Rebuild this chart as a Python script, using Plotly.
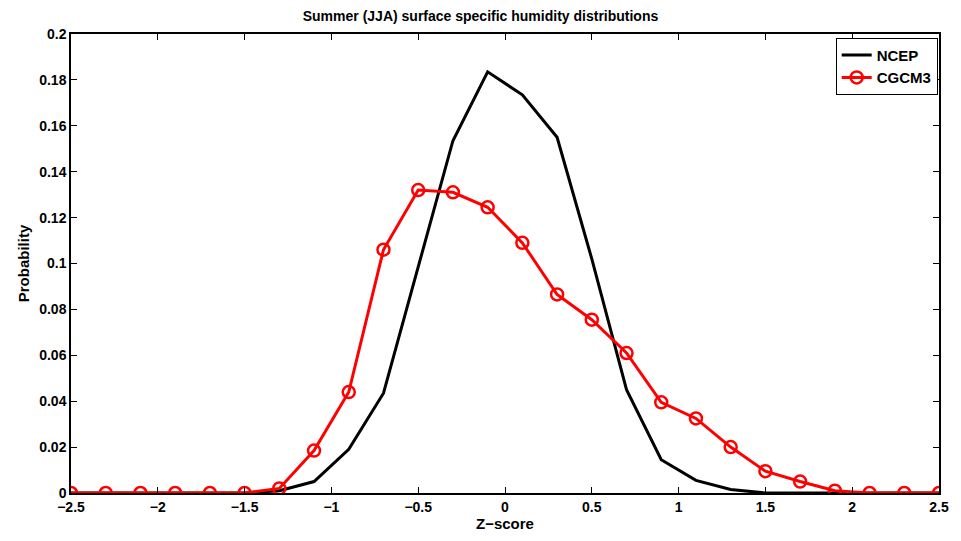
import plotly.graph_objects as go

z = [-2.5, -2.3, -2.1, -1.9, -1.7, -1.5, -1.3, -1.1, -0.9, -0.7, -0.5, -0.3, -0.1,
     0.1, 0.3, 0.5, 0.7, 0.9, 1.1, 1.3, 1.5, 1.7, 1.9, 2.1, 2.3, 2.5]
ncep = [0, 0, 0, 0, 0, 0, 0.001, 0.005, 0.019, 0.0435, 0.0985, 0.1535, 0.1835,
        0.1735, 0.155, 0.102, 0.045, 0.0145, 0.0055, 0.0015, 0, 0, 0, 0, 0, 0]
cgcm3 = [0, 0, 0, 0, 0, 0, 0.002, 0.0185, 0.044, 0.106, 0.132, 0.131, 0.1245,
         0.109, 0.0865, 0.0755, 0.061, 0.0395, 0.0325, 0.020, 0.0095, 0.005, 0.001, 0, 0, 0]
xticks = [-2.5, -2, -1.5, -1, -0.5, 0, 0.5, 1, 1.5, 2, 2.5]
xticklabels = ["−2.5", "−2", "−1.5", "−1", "−0.5", "0", "0.5", "1", "1.5", "2", "2.5"]
yticks = [0, 0.02, 0.04, 0.06, 0.08, 0.1, 0.12, 0.14, 0.16, 0.18, 0.2]
yticklabels = ["0", "0.02", "0.04", "0.06", "0.08", "0.1", "0.12", "0.14", "0.16", "0.18", "0.2"]

FAM = "Liberation Sans, Arial, sans-serif"
font = dict(family=FAM, color="black", size=14, weight="bold")

fig = go.Figure()
fig.add_trace(go.Scatter(x=z, y=ncep, mode="lines", name="NCEP",
                         line=dict(color="black", width=3)))
fig.add_trace(go.Scatter(x=z, y=cgcm3, mode="lines+markers", name="CGCM3",
                         line=dict(color="red", width=3),
                         marker=dict(symbol="circle-open", size=12, color="red",
                                     line=dict(width=2.5, color="red"))))

fig.update_layout(
    width=961, height=541,
    margin=dict(l=71, r=13, t=34, b=42),
    paper_bgcolor="white", plot_bgcolor="white",
    font=font,
    title=dict(text="Summer (JJA) surface specific humidity distributions",
               x=0.5, xanchor="center", y=0.97, yanchor="middle",
               font=dict(family=FAM, size=14, color="black", weight="bold")),
    showlegend=True,
    legend=dict(x=0.9985, xanchor="right", y=0.992, yanchor="top",
                bgcolor="white", bordercolor="black", borderwidth=1,
                font=dict(family=FAM, size=15, color="black", weight="bold"),
                tracegroupgap=0, itemwidth=30),
)
fig.update_xaxes(range=[-2.5, 2.5], tickvals=xticks, ticktext=xticklabels,
                 showgrid=False, zeroline=False, showline=True, linecolor="black", linewidth=1.5,
                 mirror="ticks", ticks="inside", ticklen=6, tickcolor="black", tickwidth=1,
                 title=dict(text="Z−score", standoff=4,
                            font=dict(family=FAM, size=15, color="black", weight="bold")),
                 tickfont=font)
fig.update_yaxes(range=[0, 0.2], tickvals=yticks, ticktext=yticklabels,
                 showgrid=False, zeroline=False, showline=True, linecolor="black", linewidth=1.5,
                 mirror="ticks", ticks="inside", ticklen=6, tickcolor="black", tickwidth=1,
                 title=dict(text="Probability", standoff=6,
                            font=dict(family=FAM, size=15, color="black", weight="bold")),
                 tickfont=font)

fig.write_html("out.html")
